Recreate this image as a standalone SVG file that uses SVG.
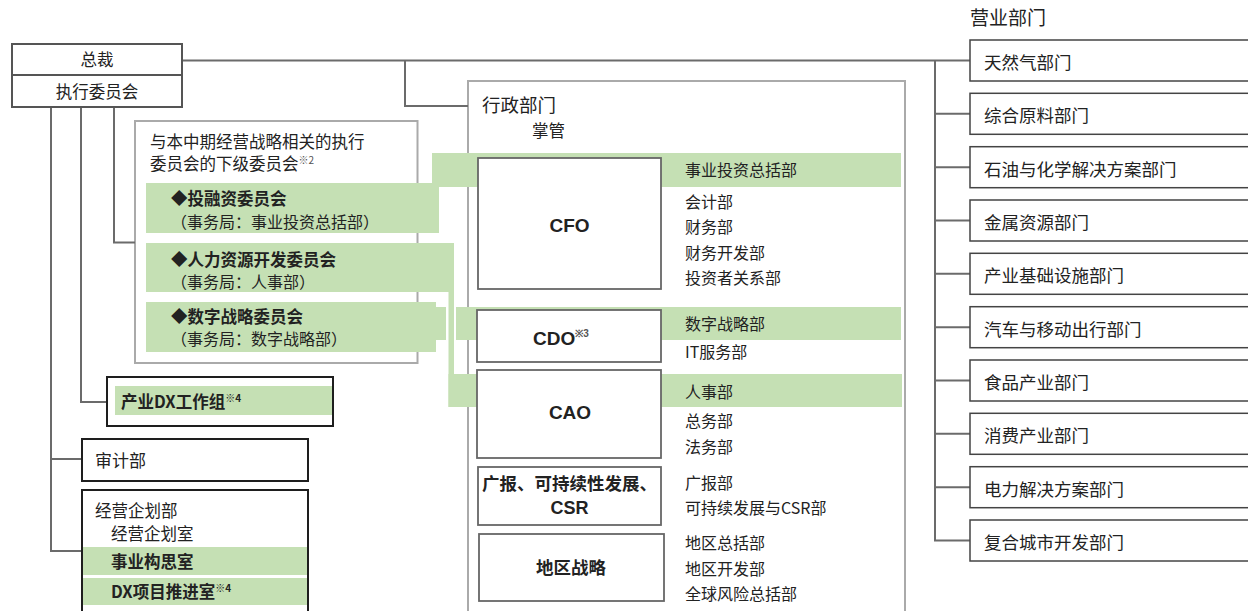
<svg xmlns="http://www.w3.org/2000/svg" width="1248" height="611" viewBox="0 0 1248 611">
<style>
text{font-family:"Noto Sans CJK SC","Noto Sans",sans-serif;fill:#222;}
.t{font-size:16px;}
.tb{font-size:16.5px;font-weight:bold;}
.r{font-size:17.5px;}
.lat{font-family:"Liberation Sans",Arial,sans-serif;font-weight:bold;font-size:19px;}
.sup{font-size:10px;}
.conn{fill:none;stroke:#6b6b6b;stroke-width:2;}
.frame{fill:none;stroke:#aaaaaa;stroke-width:2;}
.g{fill:#c5e0b4;}
.box{fill:#fff;stroke:#666;stroke-width:1.8;}
.bk{fill:#fff;stroke:#1e1e1e;stroke-width:2;}
.rb{fill:#fff;stroke:#444;stroke-width:1.5;}
</style>

<!-- frames -->
<rect id="committee-frame" class="frame" x="135" y="121" width="282.5" height="242"/>
<rect id="admin-frame" class="frame" x="468" y="81" width="437" height="540"/>

<!-- connectors -->
<g id="connectors">
<polyline class="conn" points="182,60.5 970,60.5"/>
<polyline class="conn" points="405,60.5 405,106 468,106"/>
<polyline class="conn" points="935,60.5 935,540.5 970,540.5"/>
<line class="conn" x1="935" y1="113.8" x2="970" y2="113.8"/>
<line class="conn" x1="935" y1="167.2" x2="970" y2="167.2"/>
<line class="conn" x1="935" y1="220.5" x2="970" y2="220.5"/>
<line class="conn" x1="935" y1="273.8" x2="970" y2="273.8"/>
<line class="conn" x1="935" y1="327.2" x2="970" y2="327.2"/>
<line class="conn" x1="935" y1="380.5" x2="970" y2="380.5"/>
<line class="conn" x1="935" y1="433.8" x2="970" y2="433.8"/>
<line class="conn" x1="935" y1="487.2" x2="970" y2="487.2"/>
<polyline class="conn" points="114,107 114,242.5 135,242.5"/>
<polyline class="conn" points="81,107 81,402 107,402"/>
<polyline class="conn" points="51,107 51,551 82,551"/>
<line class="conn" x1="51" y1="459" x2="82" y2="459"/>
</g>

<!-- green highlight bands -->
<g id="highlights">
<rect class="g" x="146" y="183" width="293" height="50"/>
<rect class="g" x="432" y="153" width="469" height="34"/>
<rect class="g" x="146" y="243" width="307" height="49"/>
<rect class="g" x="448.5" y="243" width="5.5" height="164"/>
<rect class="g" x="448.5" y="374" width="453.5" height="33"/>
<rect class="g" x="146" y="302" width="290" height="50"/>
<rect class="g" x="436" y="307" width="10" height="33"/>
<rect class="g" x="456" y="307" width="445" height="33"/>
</g>

<!-- top node -->
<g id="president">
<rect class="box" x="12" y="44" width="170" height="31" style="stroke:#555;stroke-width:2"/>
<text class="t" x="97" y="66" text-anchor="middle" style="font-size:16.5px">总裁</text>
</g>
<g id="exec-committee">
<rect class="box" x="12" y="75" width="170" height="32" style="stroke:#555;stroke-width:2"/>
<text class="t" x="97" y="98" text-anchor="middle" style="font-size:16.5px">执行委员会</text>
</g>

<!-- sub committees -->
<g id="sub-committees">
<text class="t" x="150" y="148" style="font-size:16.5px">与本中期经营战略相关的执行</text>
<text class="t" x="150" y="170" style="font-size:16.5px">委员会的下级委员会<tspan class="sup" dy="-6" fill="#555">※2</tspan></text>
</g>
<g id="investment-committee">
<text class="tb" x="171" y="205">◆投融资委员会</text>
<text class="t" x="171" y="228" style="font-size:16px">（事务局：事业投资总括部）</text>
</g>
<g id="hr-committee">
<text class="tb" x="171" y="266">◆人力资源开发委员会</text>
<text class="t" x="171" y="288" style="font-size:16px">（事务局：人事部）</text>
</g>
<g id="digital-committee">
<text class="tb" x="171" y="323">◆数字战略委员会</text>
<text class="t" x="171" y="345" style="font-size:16px">（事务局：数字战略部）</text>
</g>

<!-- DX working group -->
<g id="industry-dx">
<rect class="bk" x="107" y="377" width="226" height="49"/>
<rect class="g" x="115" y="386" width="217" height="29"/>
<text class="tb" x="121" y="408">产业DX工作组<tspan class="sup" dy="-6">※4</tspan></text>
</g>

<!-- audit -->
<g id="audit">
<rect class="bk" x="82" y="439" width="226" height="42"/>
<text class="t" x="95" y="467" style="font-size:17px">审计部</text>
</g>

<!-- corporate planning -->
<g id="corp-planning">
<rect class="bk" x="82" y="490" width="226" height="130"/>
<rect class="g" x="83" y="547" width="224" height="28"/>
<rect class="g" x="83" y="578" width="224" height="27"/>
<text class="t" x="95" y="517" style="font-size:16.5px">经营企划部</text>
<text class="t" x="111" y="540" style="font-size:16.5px">经营企划室</text>
<text class="tb" x="111" y="568">事业构思室</text>
<text class="tb" x="111" y="598">DX项目推进室<tspan class="sup" dy="-6">※4</tspan></text>
</g>

<!-- admin division -->
<g id="admin">
<text x="482" y="112" style="font-size:18.5px">行政部门</text>
<text class="t" x="532" y="137" style="font-size:16.5px">掌管</text>
</g>

<g id="cfo">
<rect class="box" x="478" y="158" width="183" height="131"/>
<text class="lat" x="569.5" y="232" text-anchor="middle">CFO</text>
<text class="t" x="685" y="176">事业投资总括部</text>
<text class="t" x="685" y="208">会计部</text>
<text class="t" x="685" y="233">财务部</text>
<text class="t" x="685" y="259">财务开发部</text>
<text class="t" x="685" y="284">投资者关系部</text>
</g>

<g id="cdo">
<rect class="box" x="477" y="310" width="184" height="52"/>
<text class="lat" x="561" y="345" text-anchor="middle">CDO<tspan class="sup" dy="-8" style="font-weight:bold;fill:#555">※3</tspan></text>
<text class="t" x="685" y="330">数字战略部</text>
<text class="t" x="685" y="358">IT服务部</text>
</g>

<g id="cao">
<rect class="box" x="477" y="370" width="184" height="88"/>
<text class="lat" x="570" y="419" text-anchor="middle">CAO</text>
<text class="t" x="685" y="398">人事部</text>
<text class="t" x="685" y="427">总务部</text>
<text class="t" x="685" y="453">法务部</text>
</g>

<g id="pr-csr">
<rect class="box" x="478" y="467" width="183" height="58"/>
<text class="tb" x="569.5" y="490" text-anchor="middle" style="font-size:17.5px">广报、可持续性发展、</text>
<text class="lat" x="569.5" y="514" text-anchor="middle" style="font-size:18px">CSR</text>
<text class="t" x="685" y="489">广报部</text>
<text class="t" x="685" y="514">可持续发展与CSR部</text>
</g>

<g id="regional">
<rect class="box" x="479" y="534" width="185" height="67"/>
<text class="tb" x="571" y="574" text-anchor="middle" style="font-size:17.5px">地区战略</text>
<text class="t" x="685" y="549">地区总括部</text>
<text class="t" x="685" y="575">地区开发部</text>
<text class="t" x="685" y="600">全球风险总括部</text>
</g>

<!-- business divisions -->
<g id="business-title"><text x="970" y="25" style="font-size:19px">营业部门</text></g>
<g id="bd-1"><rect class="rb" x="970" y="40" width="300" height="41"/><text class="r" x="984" y="69">天然气部门</text></g>
<g id="bd-2"><rect class="rb" x="970" y="93.3" width="300" height="41"/><text class="r" x="984" y="122.3">综合原料部门</text></g>
<g id="bd-3"><rect class="rb" x="970" y="146.7" width="300" height="41"/><text class="r" x="984" y="175.7">石油与化学解决方案部门</text></g>
<g id="bd-4"><rect class="rb" x="970" y="200" width="300" height="41"/><text class="r" x="984" y="229">金属资源部门</text></g>
<g id="bd-5"><rect class="rb" x="970" y="253.3" width="300" height="41"/><text class="r" x="984" y="282.3">产业基础设施部门</text></g>
<g id="bd-6"><rect class="rb" x="970" y="306.7" width="300" height="41"/><text class="r" x="984" y="335.7">汽车与移动出行部门</text></g>
<g id="bd-7"><rect class="rb" x="970" y="360" width="300" height="41"/><text class="r" x="984" y="389">食品产业部门</text></g>
<g id="bd-8"><rect class="rb" x="970" y="413.3" width="300" height="41"/><text class="r" x="984" y="442.3">消费产业部门</text></g>
<g id="bd-9"><rect class="rb" x="970" y="466.7" width="300" height="41"/><text class="r" x="984" y="495.7">电力解决方案部门</text></g>
<g id="bd-10"><rect class="rb" x="970" y="520" width="300" height="41"/><text class="r" x="984" y="549">复合城市开发部门</text></g>
</svg>
